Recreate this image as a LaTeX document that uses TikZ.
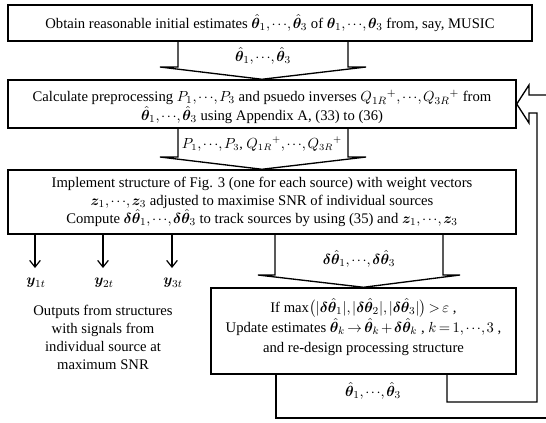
\documentclass[tikz,border=0pt]{standalone}
\usepackage{amsmath,bm}
\usepackage{fontspec}
\setmainfont{Liberation Serif}
\usetikzlibrary{arrows.meta}
\newcommand{\tht}{\boldsymbol{\hat{\theta}}}
\newcommand{\dtht}{\boldsymbol{\delta\hat{\theta}}}
\newcommand{\dd}{\mathord{\cdots}}
\newcommand{\tightmath}{\thickmuskip=3mu plus 1mu\medmuskip=2mu plus 1mu\thinmuskip=2mu}
\begin{document}
\begin{tikzpicture}[x=0.75pt,y=-0.75pt,
  box/.style={draw,line width=1.1pt,inner sep=0pt,align=center,font=\fontsize{11}{14}\selectfont\tightmath},
  ln/.style={line width=1pt},
  lbl/.style={inner sep=0pt,align=center,font=\fontsize{11}{13.5}\selectfont\tightmath},
  outarrow/.style={line width=0.9pt,-{Straight Barb[length=5pt,width=8pt]}}]
\useasboundingbox (0,0) rectangle (546,422);
% boxes
\node[box,minimum width=393pt,minimum height=27pt] (b1) at (270,23)
  {Obtain reasonable initial estimates $\tht_1,\dd,\tht_3$ of $\boldsymbol{\theta}_1,\dd,\boldsymbol{\theta}_3$ from, say, MUSIC};
\node[box,minimum width=381pt,minimum height=36pt] (b2) at (262,104) {};
\node[inner sep=0pt,align=center,font=\fontsize{11}{14.25}\selectfont\tightmath] (t2) at (262,107)
  {Calculate preprocessing $P_1,\dd,P_3$ and psuedo inverses $Q_{1R}{}^{+},\dd,Q_{3R}{}^{+}$ from\\
   $\tht_1,\dd,\tht_3$ using Appendix A, (33) to (36)};
\node[box,minimum width=381pt,minimum height=48pt,font=\fontsize{11}{13.5}\selectfont\tightmath] (b3) at (262,202)
  {Implement structure of Fig. 3 (one for each source) with weight vectors\\
   $\boldsymbol{z}_1,\dd,\boldsymbol{z}_3$ adjusted to maximise SNR of individual sources\\
   Compute $\dtht_1,\dd,\dtht_3$ to track sources by using (35) and $\boldsymbol{z}_1,\dd,\boldsymbol{z}_3$};
\node[box,minimum width=228.75pt,minimum height=64.5pt] (b4) at (363.5,331) {};
\node[inner sep=0pt,align=center,font=\fontsize{11}{14.75}\selectfont\tightmath] (t4) at (363.5,327)
  {If $\max\bigl(|\dtht_1|,|\dtht_2|,|\dtht_3|\bigr)>\varepsilon$ ,\\
   Update estimates $\tht_k\rightarrow\tht_k+\dtht_k$ , $k=1,\dd,3$ ,\\
   and re-design processing structure};
% fat arrow 1
\draw[ln] (178,41) -- (178,67) -- (160,67) -- (b2.north) -- (366,67) -- (348,67) -- (348,41);
\node[lbl] (l1) at (263,56) {$\tht_1,\dd,\tht_3$};
% fat arrow 2
\draw[ln] (178,128) -- (178,157) -- (160,157) -- (b3.north) -- (366,157) -- (348,157) -- (348,128);
\node[lbl,font=\fontsize{10.5}{13}\selectfont\tightmath] (l2) at (262,144) {$P_1,\dd,P_3$, $Q_{1R}{}^{+},\dd,Q_{3R}{}^{+}$};
% fat arrow 3
\draw[ln] (275,234) -- (275,275) -- (258,275) -- (b4.north) -- (460,275) -- (443,275) -- (443,234);
\node[lbl] (l3) at (359,259) {$\dtht_1,\dd,\dtht_3$};
% outputs
\coordinate (o1) at (35,234); \coordinate (o2) at (103,234); \coordinate (o3) at (172,234);
\node[lbl] (y1) at (36,283) {$\boldsymbol{y}_{1t}$};
\node[lbl] (y2) at (104,283) {$\boldsymbol{y}_{2t}$};
\node[lbl] (y3) at (173,283) {$\boldsymbol{y}_{3t}$};
\draw[outarrow] (o1) -- (35,268);
\draw[outarrow] (o2) -- (103,268);
\draw[outarrow] (o3) -- (172,268);
\node[lbl] (outs) at (103,337) {Outputs from structures\\with signals from\\individual source at\\maximum SNR};
% feedback
\node[lbl] (l4) at (373,391) {$\tht_1,\dd,\tht_3$};
\draw[ln] (447,374) -- (447,402) -- (537,402) -- (537,113) -- (529,113) -- (529,123) -- (b2.east)
  -- (529,85) -- (529,95) -- (548,95);
\draw[ln] (276,374) -- (276,418) -- (548,418);
\end{tikzpicture}
\end{document}
